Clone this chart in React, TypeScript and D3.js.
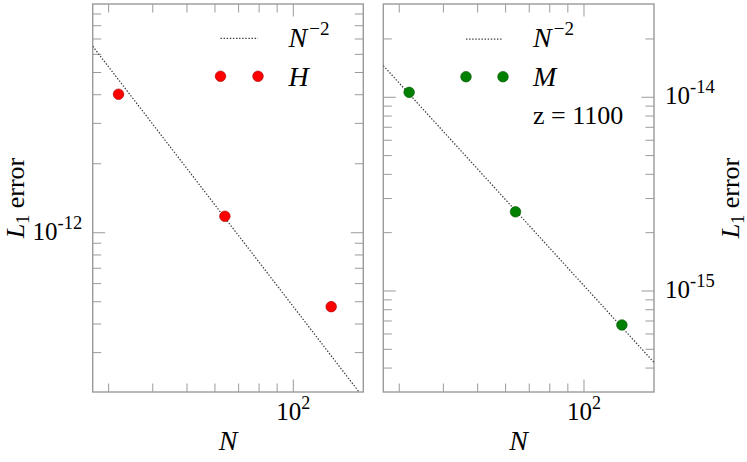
import React from 'react';
import * as d3 from 'd3';

const W = 747;
const H = 462;

// ---- data ----
const nValues = [32, 64, 128];
const hErrors = [4.02e-12, 1.18e-12, 4.76e-13];
const mErrors = [1.06e-14, 2.563e-15, 6.68e-16];
// reference line coefficients: err = C * N^-2
const refCoefLeft = 4.76e-9;
const refCoefRight = 1.065e-11;

const xDomain = [27.04, 157.8];
const yDomainLeft = [2.02e-13, 9.95e-12];
const yDomainRight = [3.01e-16, 3.03e-14];

const xTickLabels = [{ v: 100, base: '10', exp: '2' }];
const yTickLabelsLeft = [{ v: 1e-12, base: '10', exp: '-12' }];
const yTickLabelsRight = [
  { v: 1e-14, base: '10', exp: '-14' },
  { v: 1e-15, base: '10', exp: '-15' },
];
const legendLeft = ['H'];
const legendRight = ['M'];
const noteRight = 'z = 1100';

const FONT = 'Liberation Serif, DejaVu Serif, serif';
const FRAME = '#9a9a9a';

const isMajor = (v: number) => Math.abs(Math.log10(v) - Math.round(Math.log10(v))) < 1e-6;

type PanelProps = {
  id: string;
  x0: number;
  x1: number;
  y0: number;
  y1: number;
  yDomain: number[];
  errors: number[];
  coef: number;
  color: string;
  stroke: string;
  yLabels: { v: number; base: string; exp: string }[];
  side: 'left' | 'right';
  legendLabel: string;
  legend: { lx0: number; lx1: number; ly: number; dy: number; tx: number; tb1: number; tb2: number };
  note?: { text: string; x: number; y: number };
};

const txt = (size: number, italic = false): React.CSSProperties => ({
  fontFamily: FONT,
  fontSize: size,
  fontStyle: italic ? 'italic' : 'normal',
});

function Panel(p: PanelProps) {
  const x = d3.scaleLog().domain(xDomain).range([p.x0, p.x1]);
  const y = d3.scaleLog().domain(p.yDomain).range([p.y1, p.y0]);
  const xt = x.ticks().filter((v) => x(v) > p.x0 + 2 && x(v) < p.x1 - 2);
  const yt = y.ticks().filter((v) => y(v) > p.y0 + 2 && y(v) < p.y1 - 2);
  const refPts: [number, number][] = xDomain.map((n) => [x(n), y(p.coef / (n * n))]);
  const line = d3.line()(refPts) || '';
  const clipId = 'clip-' + p.id;
  const majLen = 12.5;
  const minLen = 8.5;
  const midY = (p.y0 + p.y1) / 2;
  const midX = (p.x0 + p.x1) / 2;
  return (
    <g>
      <defs>
        <clipPath id={clipId}>
          <rect x={p.x0} y={p.y0} width={p.x1 - p.x0} height={p.y1 - p.y0} />
        </clipPath>
      </defs>
      <g stroke={FRAME} strokeWidth={1}>
        {xt.map((v) => {
          const L = isMajor(v) ? majLen : minLen;
          return (
            <g key={'x' + v}>
              <line x1={x(v)} x2={x(v)} y1={p.y1} y2={p.y1 - L} />
              <line x1={x(v)} x2={x(v)} y1={p.y0} y2={p.y0 + L} />
            </g>
          );
        })}
        {yt.map((v) => {
          const L = isMajor(v) ? majLen : minLen;
          return (
            <g key={'y' + v}>
              <line x1={p.x0} x2={p.x0 + L} y1={y(v)} y2={y(v)} />
              <line x1={p.x1} x2={p.x1 - L} y1={y(v)} y2={y(v)} />
            </g>
          );
        })}
      </g>
      <rect x={p.x0} y={p.y0} width={p.x1 - p.x0} height={p.y1 - p.y0} fill="none" stroke={FRAME} strokeWidth={1.4} />
      <path d={line} clipPath={`url(#${clipId})`} fill="none" stroke="#3a3a3a" strokeWidth={1.25} strokeDasharray="1.4,1.7" />
      {nValues.map((n, i) => (
        <circle key={'p' + i} cx={x(n)} cy={y(p.errors[i])} r={5.3} fill={p.color} stroke={p.stroke} strokeWidth={0.6} />
      ))}
      {xTickLabels.map((t) => (
        <text key={'xl' + t.v} x={x(t.v)} y={420} textAnchor="middle" style={txt(25)} fill="#000">
          <tspan>{t.base}</tspan>
          <tspan dy={-11} style={txt(18)}>{t.exp}</tspan>
        </text>
      ))}
      {p.yLabels.map((t) => (
        <text
          key={'yl' + t.v}
          x={p.side === 'left' ? p.x0 - 10.5 : p.x1 + 11}
          y={y(t.v) + 7}
          textAnchor={p.side === 'left' ? 'end' : 'start'}
          style={txt(25)}
          fill="#000"
        >
          <tspan>{t.base}</tspan>
          <tspan dy={-11} style={txt(18.5)}>{t.exp}</tspan>
        </text>
      ))}
      <text x={midX} y={450} textAnchor="middle" style={txt(28, true)} fill="#000">
        N
      </text>
      <text
        transform={`translate(${p.side === 'left' ? 23.5 : 739},${midY}) rotate(-90)`}
        textAnchor="middle"
        style={txt(26)}
        fill="#000"
      >
        <tspan style={txt(26, true)}>L</tspan>
        <tspan dy={5} style={txt(18)}>1</tspan>
        <tspan dy={-5}> error</tspan>
      </text>
      <line x1={p.legend.lx0} x2={p.legend.lx1} y1={p.legend.ly} y2={p.legend.ly} stroke="#3a3a3a" strokeWidth={1.25} strokeDasharray="1.4,1.7" />
      <text x={p.legend.tx} y={p.legend.tb1} style={txt(28)} fill="#000">
        <tspan style={txt(28, true)}>N</tspan>
        <tspan dx={2} dy={-12} style={txt(19)}>−2</tspan>
      </text>
      <circle cx={p.legend.lx0} cy={p.legend.dy} r={5.3} fill={p.color} stroke={p.stroke} strokeWidth={0.6} />
      <circle cx={p.legend.lx1} cy={p.legend.dy} r={5.3} fill={p.color} stroke={p.stroke} strokeWidth={0.6} />
      <text x={p.legend.tx} y={p.legend.tb2} style={txt(28, true)} fill="#000">
        {p.legendLabel}
      </text>
      {p.note && (
        <text x={p.note.x} y={p.note.y} style={txt(26)} fill="#000">
          {p.note.text}
        </text>
      )}
    </g>
  );
}

export default function App() {
  return (
    <svg width={W} height={H} style={{ position: 'absolute', left: 0, top: 0, background: '#fff' }}>
      <rect x={0} y={0} width={W} height={H} fill="#fff" />
      <Panel
        id="left"
        x0={92.7}
        x1={363.3}
        y0={4}
        y1={392}
        yDomain={yDomainLeft}
        errors={hErrors}
        coef={refCoefLeft}
        color="#ff0000"
        stroke="#a00000"
        yLabels={yTickLabelsLeft}
        side="left"
        legendLabel={legendLeft[0]}
        legend={{ lx0: 220.5, lx1: 258, ly: 38.3, dy: 76.3, tx: 288.5, tb1: 47, tb2: 86 }}
      />
      <Panel
        id="right"
        x0={383.3}
        x1={654}
        y0={4}
        y1={392}
        yDomain={yDomainRight}
        errors={mErrors}
        coef={refCoefRight}
        color="#008000"
        stroke="#005000"
        yLabels={yTickLabelsRight}
        side="right"
        legendLabel={legendRight[0]}
        legend={{ lx0: 466, lx1: 503, ly: 39, dy: 76.7, tx: 533, tb1: 47, tb2: 86 }}
        note={{ text: noteRight, x: 533, y: 124 }}
      />
    </svg>
  );
}
